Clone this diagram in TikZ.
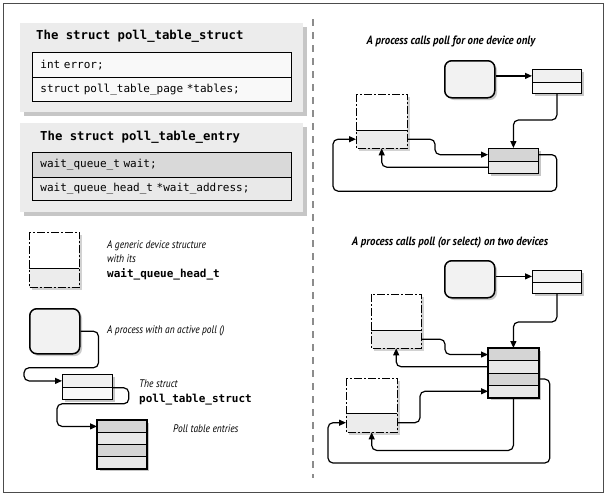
\documentclass[tikz,border=0pt]{standalone}
\usepackage{fontspec}
\usetikzlibrary{arrows.meta,calc}
\newfontfamily\codefont{DejaVu Sans Mono}
\newfontfamily\capfont[FakeStretch=0.86]{PT Sans}
\newfontfamily\titlefont[FakeStretch=0.9]{PT Sans}

\tikzset{
  conn/.style={line width=1.2pt, rounded corners=5pt, -{Triangle[length=7pt,width=6pt]}},
  cellst/.style={draw, line width=0.8pt, inner sep=0pt, anchor=north west},
  tabrow/.style={draw, line width=0.9pt, anchor=north west, inner xsep=8pt, inner ysep=0pt,
    text width=243pt, align=left, font=\codefont\fontsize{11}{13}\selectfont},
  proc/.style={draw, line width=1.5pt, rounded corners=7pt, fill=gray!10, inner sep=0pt, anchor=north west},
  procshadow/.style={fill=gray!40, rounded corners=7pt},
  boxshadow/.style={fill=gray!45},
  devshadow/.style={fill=gray!35},
  devline/.style={line width=1pt, dash pattern=on 8pt off 2pt on 2pt off 2pt},
  captxt/.style={font=\capfont\itshape\fontsize{11}{13}\selectfont, inner sep=0pt, anchor=base west},
  titletxt/.style={font=\titlefont\bfseries\itshape\fontsize{12}{14}\selectfont, inner sep=0pt, anchor=base},
  codebold/.style={font=\codefont\bfseries\fontsize{11}{13}\selectfont, inner sep=0pt, anchor=base west},
  headtxt/.style={font=\codefont\bfseries\fontsize{12.3}{14}\selectfont, inner sep=0pt, anchor=base west}
}

% device: name, x1, y1, x2, y2, ydiv
\newcommand\devbox[6]{%
  \fill[devshadow] ({#2+3},{#3+3}) rectangle ({#4+3},{#5+3});
  \node[inner sep=0pt, anchor=north west, fill=white, minimum width={#4-#2}, minimum height={#6-#3}] (#1top) at (#2,#3) {};
  \node[inner sep=0pt, anchor=north west, fill=gray!15, minimum width={#4-#2}, minimum height={#5-#6}] (#1low) at (#2,#6) {};
  \draw[devline] (#1top.north west) rectangle (#1low.south east);
  \draw[line width=0.8pt] (#1low.north west) -- (#1low.north east);
}
% process: name, x1, y1, x2, y2
\newcommand\procbox[5]{%
  \fill[procshadow] ({#2+3},{#3+3}) rectangle ({#4+3},{#5+3});
  \node[proc, minimum width={#4-#2}, minimum height={#5-#3}] (#1) at (#2,#3) {};
}
% small struct: name, x1, y1, x2, y2, ydiv
\newcommand\sstruct[6]{%
  \fill[boxshadow] ({#2+3},{#3+3}) rectangle ({#4+3},{#5+3});
  \node[cellst, fill=gray!12, minimum width={#4-#2}, minimum height={#6-#3}] (#1t) at (#2,#3) {};
  \node[cellst, fill=gray!5, minimum width={#4-#2}, minimum height={#5-#6}] (#1b) at (#2,#6) {};
}
% entries (4 rows): name, x1, y1, x2, row height
\newcommand\entries[5]{%
  \fill[boxshadow] ({#2+3},{#3+3}) rectangle ({#4+3},{#3+4*#5+3});
  \node[cellst, fill=gray!33, minimum width={#4-#2}, minimum height={#5}] (#1r1) at (#2,#3) {};
  \node[cellst, fill=gray!18, minimum width={#4-#2}, minimum height={#5}] (#1r2) at (#2,{#3+#5}) {};
  \node[cellst, fill=gray!33, minimum width={#4-#2}, minimum height={#5}] (#1r3) at (#2,{#3+2*#5}) {};
  \node[cellst, fill=gray!18, minimum width={#4-#2}, minimum height={#5}] (#1r4) at (#2,{#3+3*#5}) {};
  \draw[line width=1.8pt] (#1r1.north west) rectangle (#1r4.south east);
}

\begin{document}
\begin{tikzpicture}[x=1pt,y=-1pt]
\useasboundingbox (0,0) rectangle (608,496);
\fill[white] (0,0) rectangle (608,496);
\draw[line width=1.2pt, black!70] (3.5,3.5) rectangle (603.5,492.5);
\draw[line width=1.2pt, black!45, dash pattern=on 7pt off 6pt] (313,19) -- (313,478);

% ---------- struct poll_table_struct ----------
\fill[boxshadow] (24,27) rectangle (307,116);
\fill[gray!15] (20,23) rectangle (303,112);
\node[headtxt] (h1) at (36,39) {The struct poll\_table\_struct};
\node[tabrow, fill=gray!5, minimum height=25pt] (r1) at (32,52) {int error;};
\node[tabrow, fill=gray!5, minimum height=24pt] (r2) at (32,77) {struct poll\_table\_page *tables;};

% ---------- struct poll_table_entry ----------
\fill[boxshadow] (24,127) rectangle (307,216);
\fill[gray!15] (20,123) rectangle (303,212);
\node[headtxt] (h2) at (40,140.5) {The struct poll\_table\_entry};
\node[tabrow, fill=gray!30, minimum height=25pt] (r3) at (32,152) {wait\_queue\_t wait;};
\node[tabrow, fill=gray!17, minimum height=23pt] (r4) at (32,177) {wait\_queue\_head\_t *wait\_address;};

% ---------- legend ----------
\devbox{ld}{29}{232}{79}{287}{268}
\node[captxt] (c1) at (107,248) {A generic device structure};
\node[captxt] (c2) at (107,262) {with its};
\node[codebold] (c3) at (107,277) {wait\_queue\_head\_t};

\procbox{lp}{29}{308}{79}{353}
\node[captxt] (c4) at (107,333) {A process with an active poll ()};

\sstruct{ls}{62}{374}{112}{399}{387}
\node[captxt] (c5) at (139,387) {The struct};
\node[codebold] (c6) at (139,402) {poll\_table\_struct};

\entries{le}{97}{420}{146}{12}
\node[captxt] (c7) at (173,432) {Poll table entries};

\draw[conn] (lp.east) -| ($(lp.east)+(18,36.5)$) -| ($(lst.west)+(-38,0)$) -- (lst.west);
\draw[conn] (lst.south east) -| ($(lst.south east)+(16,16)$) -| ($(ler1.west)+(-40,0)$) -- (ler1.west);

% ---------- one device ----------
\node[titletxt] (tt1) at (451,44) {A process calls poll for one device only};
\procbox{p1}{444}{60}{494}{97}
\sstruct{s1}{532}{69}{581}{93}{82}
\devbox{d1}{356}{94}{407}{148}{130}
\fill[boxshadow] (491,151) rectangle (541,176);
\node[cellst, fill=gray!33, minimum width=50pt, minimum height=12.5pt] (e1r1) at (488,148) {};
\node[cellst, fill=gray!18, minimum width=50pt, minimum height=12.5pt] (e1r2) at (488,160.5) {};
\draw[line width=1pt] (e1r1.north west) rectangle (e1r2.south east);

\draw[conn] (p1.east |- s1t.west) -- (s1t.west);
\draw[conn] (s1b.south) |- ($(e1r1.north)+(0,-28)$) -- (e1r1.north);
\draw[conn] (d1low.east) -| ($(e1r1.west)+(-53,0)$) -- (e1r1.west);
\draw[conn] (e1r2.west) -| (d1low.south);
\draw[conn] (e1r1.east) -| ($(e1r1.east)+(18,36.5)$) -| ($(d1low.west)+(-23,0)$) -- (d1low.west);

% ---------- two devices ----------
\node[titletxt] (tt2) at (450,245) {A process calls poll (or select) on two devices};
\procbox{p2}{444}{260}{494}{297}
\sstruct{s2}{532}{270}{581}{293}{282}
\devbox{d2}{371}{294}{421}{348}{330}
\devbox{d3}{346}{378}{397}{432}{413}
\entries{e2}{488}{348}{538}{12.25}

\draw[conn] (p2.east |- s2t.west) -- (s2t.west);
\draw[conn] (s2b.south) |- ($(e2r1.north)+(0,-26)$) -- (e2r1.north);
\draw[conn] (d2low.east) -| ($(e2r1.west)+(-43,0)$) -- (e2r1.west);
\draw[conn] (e2r2.west) -| (d2low.south);
\draw[conn] (d3low.east) -| ($(e2r4.west)+(-68,0)$) -- (e2r4.west);
\draw[conn] (e2r4.south) |- ($(d3low.south)+(0,18)$) -- (d3low.south);
\draw[conn] (e2r3.east) -| ($(e2r3.east)+(11,84)$) -| ($(d3low.west)+(-18,0)$) -- (d3low.west);
\end{tikzpicture}
\end{document}
